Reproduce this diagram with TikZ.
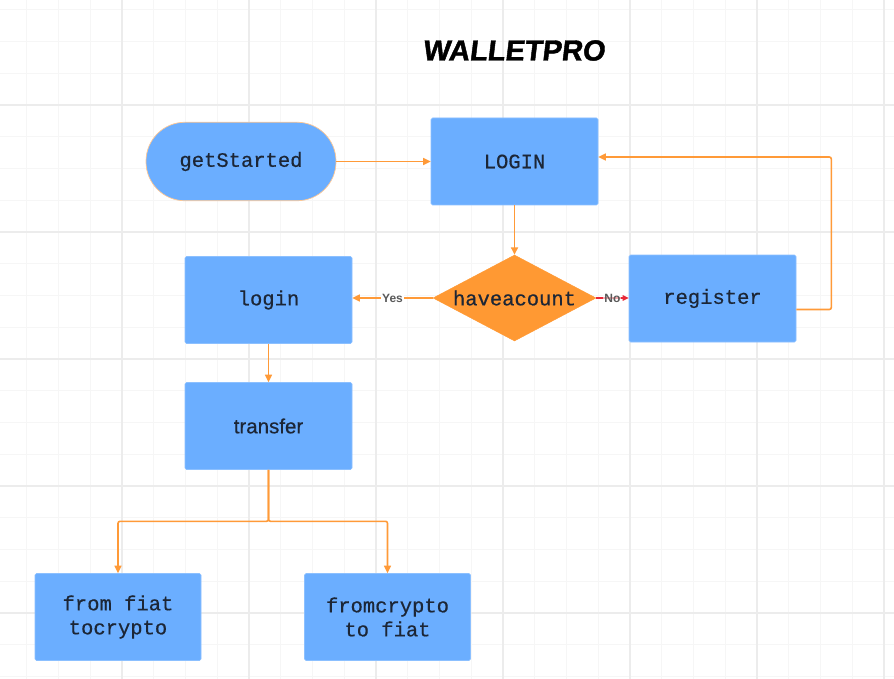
\documentclass[tikz,border=0pt]{standalone}
\usepackage{fontspec}
\newfontfamily\monof{Liberation Mono}[FakeBold=0.5]
\newfontfamily\sansf{Liberation Sans}
\newfontfamily\sansm{Liberation Sans}[FakeBold=0.5]
\newfontfamily\titlef{Liberation Sans Bold}[FakeSlant=0.12,FakeBold=1.5]
\usetikzlibrary{shapes.geometric,arrows.meta,calc}
\definecolor{boxblue}{RGB}{107,174,255}
\definecolor{boxedge}{RGB}{140,192,255}
\definecolor{arrorange}{RGB}{255,154,56}
\definecolor{diaorange}{RGB}{255,153,51}
\definecolor{textdark}{RGB}{28,38,54}
\definecolor{gridminor}{RGB}{246,246,246}
\definecolor{gridmajor}{RGB}{236,236,236}
\definecolor{noRed}{RGB}{232,40,56}
\definecolor{lblgray}{RGB}{90,90,90}
\tikzset{
  box/.style={rectangle, rounded corners=1.5pt, fill=boxblue, draw=boxedge, line width=0.6pt,
    minimum width=167pt, minimum height=87pt, inner sep=0pt, text=textdark,
    font=\monof\fontsize{20.5}{24}\selectfont, align=center},
  startbox/.style={rectangle, rounded corners=39pt, fill=boxblue, draw=arrorange!55, line width=0.7pt,
    minimum width=190pt, minimum height=78.5pt, inner sep=0pt, text=textdark,
    font=\monof\fontsize{20.5}{24}\selectfont},
  decbox/.style={diamond, aspect=1.9, fill=diaorange, draw=diaorange, inner sep=0pt,
    minimum width=163pt, minimum height=86pt, text=textdark,
    font=\monof\fontsize{20.5}{24}\selectfont},
  arr/.style={draw=arrorange, line width=1.6pt, rounded corners=2pt,
    -{Triangle[length=7.5pt,width=7pt]}},
  noarr/.style={draw=noRed, line width=1.2pt, -{Triangle[length=6pt,width=5.5pt]}},
  lbl/.style={fill=white, inner sep=1pt, text=lblgray, font=\sansf\bfseries\fontsize{12}{13}\selectfont},
  gminor/.style={draw=gridminor, line width=1pt},
  gmajor/.style={draw=gridmajor, line width=1.3pt}
}
\begin{document}
\begin{tikzpicture}[x=1pt,y=-1pt]
\useasboundingbox (0,0) rectangle (894,679);
\fill[white] (0,0) rectangle (894,679);
% grid
\foreach \i in {0,...,29} {\draw[gminor] ({-5+31.75*\i},0) -- ({-5+31.75*\i},679);}
\foreach \j in {0,...,21} {\draw[gminor] (0,{9.75+31.75*\j}) -- (894,{9.75+31.75*\j});}
\foreach \i in {0,...,6} {\draw[gmajor] ({122+127*\i},0) -- ({122+127*\i},679);}
\foreach \j in {0,...,4} {\draw[gmajor] (0,{105+127*\j}) -- (894,{105+127*\j});}
% title
\node[text=black, font=\titlef\fontsize{29}{31}\selectfont] (title) at (513.5,50.5) {WALLETPRO};
% nodes
\node[startbox] (gs) at (241,161.5) {getStarted};
\node[box] (LOGIN) at (514.5,161.5) {LOGIN};
\node[decbox] (dec) at (514.5,298) {haveacount};
\node[box] (login) at (268.5,300) {login};
\node[box] (reg) at (712.5,298.5) {register};
\node[box, font=\sansm\fontsize{20.5}{24}\selectfont] (tr) at (268.5,426) {transfer};
\node[box, minimum width=166pt] (fiat) at (118,617) {from fiat\\tocrypto};
\node[box, minimum width=166pt] (crypto) at (387.5,617) {fromcrypto\\to fiat};
% connectors
\draw[arr] (gs) -- (LOGIN);
\draw[arr] (LOGIN) -- (dec);
\draw[arr] (dec.west) -- (login.east |- dec.west) node[lbl, midway] (yes) {Yes};
\draw[noarr] (dec.east) -- (reg.west |- dec.east) node[lbl, midway, fill opacity=0.6, text opacity=1] (no) {No};
\coordinate (rout) at ($(reg.east)+(0,11)$);
\coordinate (rin) at ($(LOGIN.east)+(0,-4.5)$);
\draw[arr] (rout) -- ++(35,0) |- (rin);
\draw[arr] (login) -- (tr);
\draw[arr] (tr.south) -- ++(0,51.5) -| (fiat.north);
\draw[arr] (tr.south) -- ++(0,51.5) -| (crypto.north);
\end{tikzpicture}
\end{document}
